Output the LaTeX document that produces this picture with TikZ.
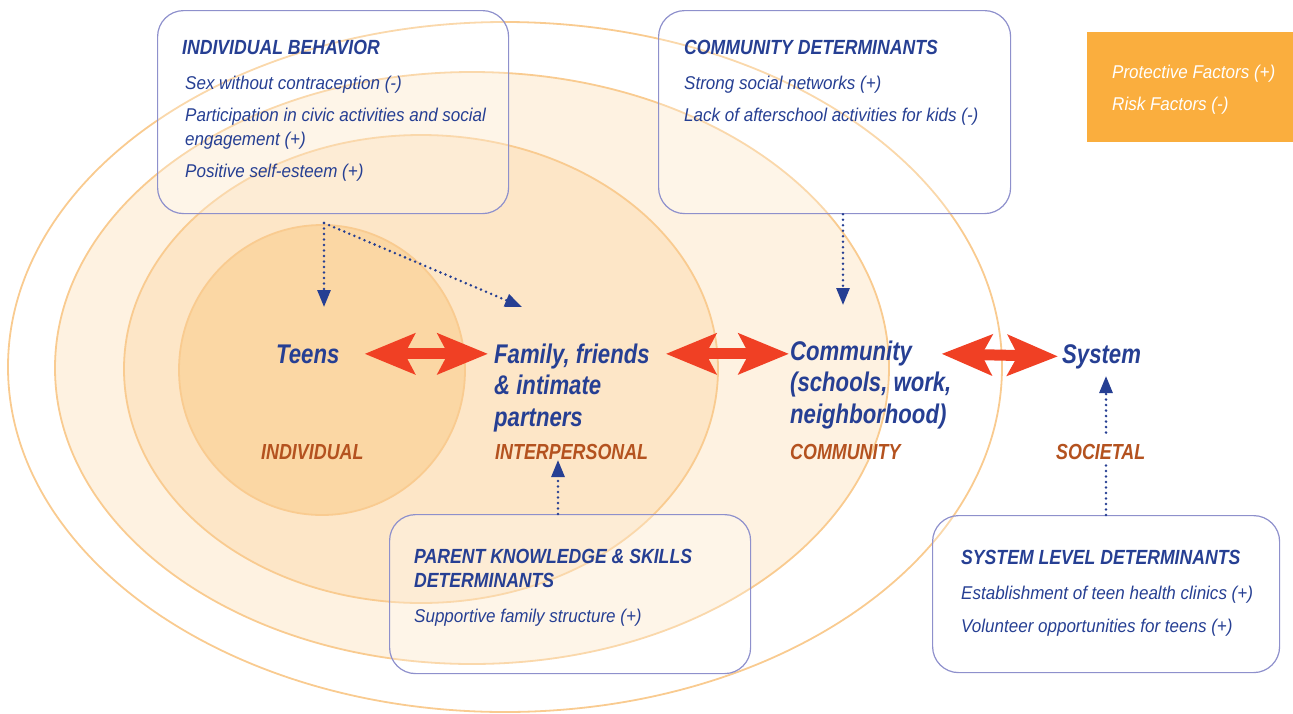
\documentclass[tikz,border=0pt]{standalone}
\usepackage{fontspec}
\newfontfamily\cond[FakeStretch=0.82]{Liberation Sans}
\newfontfamily\condhead[FakeStretch=0.86]{Liberation Sans}
\newfontfamily\conditem[FakeStretch=0.92]{Liberation Sans}
\usetikzlibrary{arrows.meta,positioning}
\definecolor{inkblue}{HTML}{263F93}
\definecolor{levelbrown}{HTML}{B4521F}
\definecolor{ringline}{HTML}{F9CB90}
\definecolor{ringA}{HTML}{FEF2E1}
\definecolor{ringB}{HTML}{FDE6C7}
\definecolor{ringC}{HTML}{FBD7A4}
\definecolor{boxline}{HTML}{8E90CC}
\definecolor{legendfill}{HTML}{FAAE3E}
\definecolor{linkred}{HTML}{F04024}

\begin{document}
\begin{tikzpicture}[
  x=1pt,y=-1pt,
  ring/.style={draw=ringline,line width=1.8pt},
  detbox/.style={draw=boxline,line width=1.2pt,rounded corners=26pt,anchor=north west,
    inner sep=0pt,fill=white,fill opacity=0.25},
  head/.style={font=\condhead\bfseries\itshape\fontsize{20.5}{24}\selectfont,text=inkblue,
    anchor=base west,inner sep=0pt,align=left},
  item/.style={font=\conditem\itshape\fontsize{18.5}{24}\selectfont,text=inkblue,
    anchor=base west,inner sep=0pt,align=left},
  actor/.style={font=\cond\bfseries\itshape\fontsize{27}{31.5}\selectfont,text=inkblue,
    anchor=base west,inner sep=0pt,align=left},
  level/.style={font=\cond\bfseries\itshape\fontsize{21.8}{24}\selectfont,text=levelbrown,
    anchor=base west,inner sep=0pt},
  link/.style={linkred,line width=11pt,
    {Stealth[length=50pt,width=40pt,inset=10pt]}-{Stealth[length=50pt,width=40pt,inset=10pt]}},
  dotline/.style={inkblue,line width=2.8pt,dash pattern=on 0pt off 5.5pt,line cap=round},
  dotarr/.style={dotline,-{Triangle[length=17pt,width=13pt]}}
]
\useasboundingbox (0,0) rectangle (1293,713);

% nested levels
\draw[ring] (505,367) ellipse [x radius=497pt, y radius=345pt];
\draw[ring,fill=ringA] (472,368) ellipse [x radius=417pt, y radius=296pt];
\draw[ring,fill=ringB] (421,369) ellipse [x radius=297pt, y radius=234pt];
\draw[ring,fill=ringC] (322,370) ellipse [x radius=143pt, y radius=145pt];

% determinant boxes
\node[detbox,minimum width=351pt,minimum height=203pt] (indbox) at (157,10) {};
\node[detbox,minimum width=352pt,minimum height=203pt] (cdbox)  at (658,10) {};
\node[detbox,minimum width=361pt,minimum height=159pt] (pkbox)  at (389,514) {};
\node[detbox,minimum width=347pt,minimum height=157pt] (sldbox) at (932,515) {};
\node[fill=legendfill,anchor=north west,inner sep=0pt,minimum width=206pt,minimum height=110pt] (legend) at (1087,32) {};

% (base of a wrapped node = its last line)
\node[head] (indhead) at (182,54) {INDIVIDUAL BEHAVIOR};
\node[item] (ind1) at (185,89)  {Sex without contraception (-)};
\node[item] (ind2) at (185,145) {Participation in civic activities and social\\engagement (+)};
\node[item] (ind3) at (185,177) {Positive self-esteem (+)};

\node[head] (cdhead) at (684,54) {COMMUNITY DETERMINANTS};
\node[item] (cd1) at (684,89)  {Strong social networks (+)};
\node[item] (cd2) at (684,121) {Lack of afterschool activities for kids (-)};

\node[head] (pkhead) at (414,587) {PARENT KNOWLEDGE \& SKILLS\\DETERMINANTS};
\node[item] (pk1) at (414,622) {Supportive family structure (+)};

\node[head] (sldhead) at (961,564) {SYSTEM LEVEL DETERMINANTS};
\node[item] (sld1) at (961,599) {Establishment of teen health clinics (+)};
\node[item] (sld2) at (961,632) {Volunteer opportunities for teens (+)};

\node[item,text=white] (prot) at (1112,78)  {Protective Factors (+)};
\node[item,text=white] (risk) at (1112,110) {Risk Factors (-)};

% actors and levels
\node[actor] (teens)   at (276,363) {Teens};
\node[actor] (family)  at (494,426) {Family, friends\\\& intimate\\partners};
\node[actor] (commun)  at (790,423) {Community\\(schools, work,\\neighborhood)};
\node[actor] (system)  at (1062,363) {System};

\node[level] (individual)    at (261,459)  {INDIVIDUAL};
\node[level] (interpersonal) at (495,459)  {INTERPERSONAL};
\node[level] (community)     at (790,459)  {COMMUNITY};
\node[level] (societal)      at (1056,459) {SOCIETAL};

% two-way links
\draw[link] ([xshift=25pt]teens.east) -- ([xshift=-6pt]teens.east -| family.west);
\draw[link] ([xshift=16pt]family.east |- teens.east) -- ([xshift=-1pt]commun.west |- teens.east);
\draw[link] ([xshift=-10pt]commun.east |- teens.east) -- ([xshift=-4pt]system.west);

% dotted influence arrows
\coordinate (indfork)  at (324,223);
\coordinate (teenstip) at (324,307);
\coordinate (famtip)   at (522,307);
\coordinate (commtip)  at (843,305);
\coordinate (inttip)   at (558,460);
\coordinate (systip)   at (1106,376);
\draw[dotarr] (indfork) -- (teenstip);
\draw[dotarr] (indfork) -- (famtip);
\draw[dotarr] (cdbox.south -| commtip) -- (commtip);
\draw[dotarr] (pkbox.north -| inttip) -- (inttip);
\draw[dotline] (sldbox.north -| systip) -- ([yshift=-6pt]societal.south -| systip);
\draw[dotarr] ([yshift=11pt]societal.north -| systip) -- (systip);
\end{tikzpicture}
\end{document}
